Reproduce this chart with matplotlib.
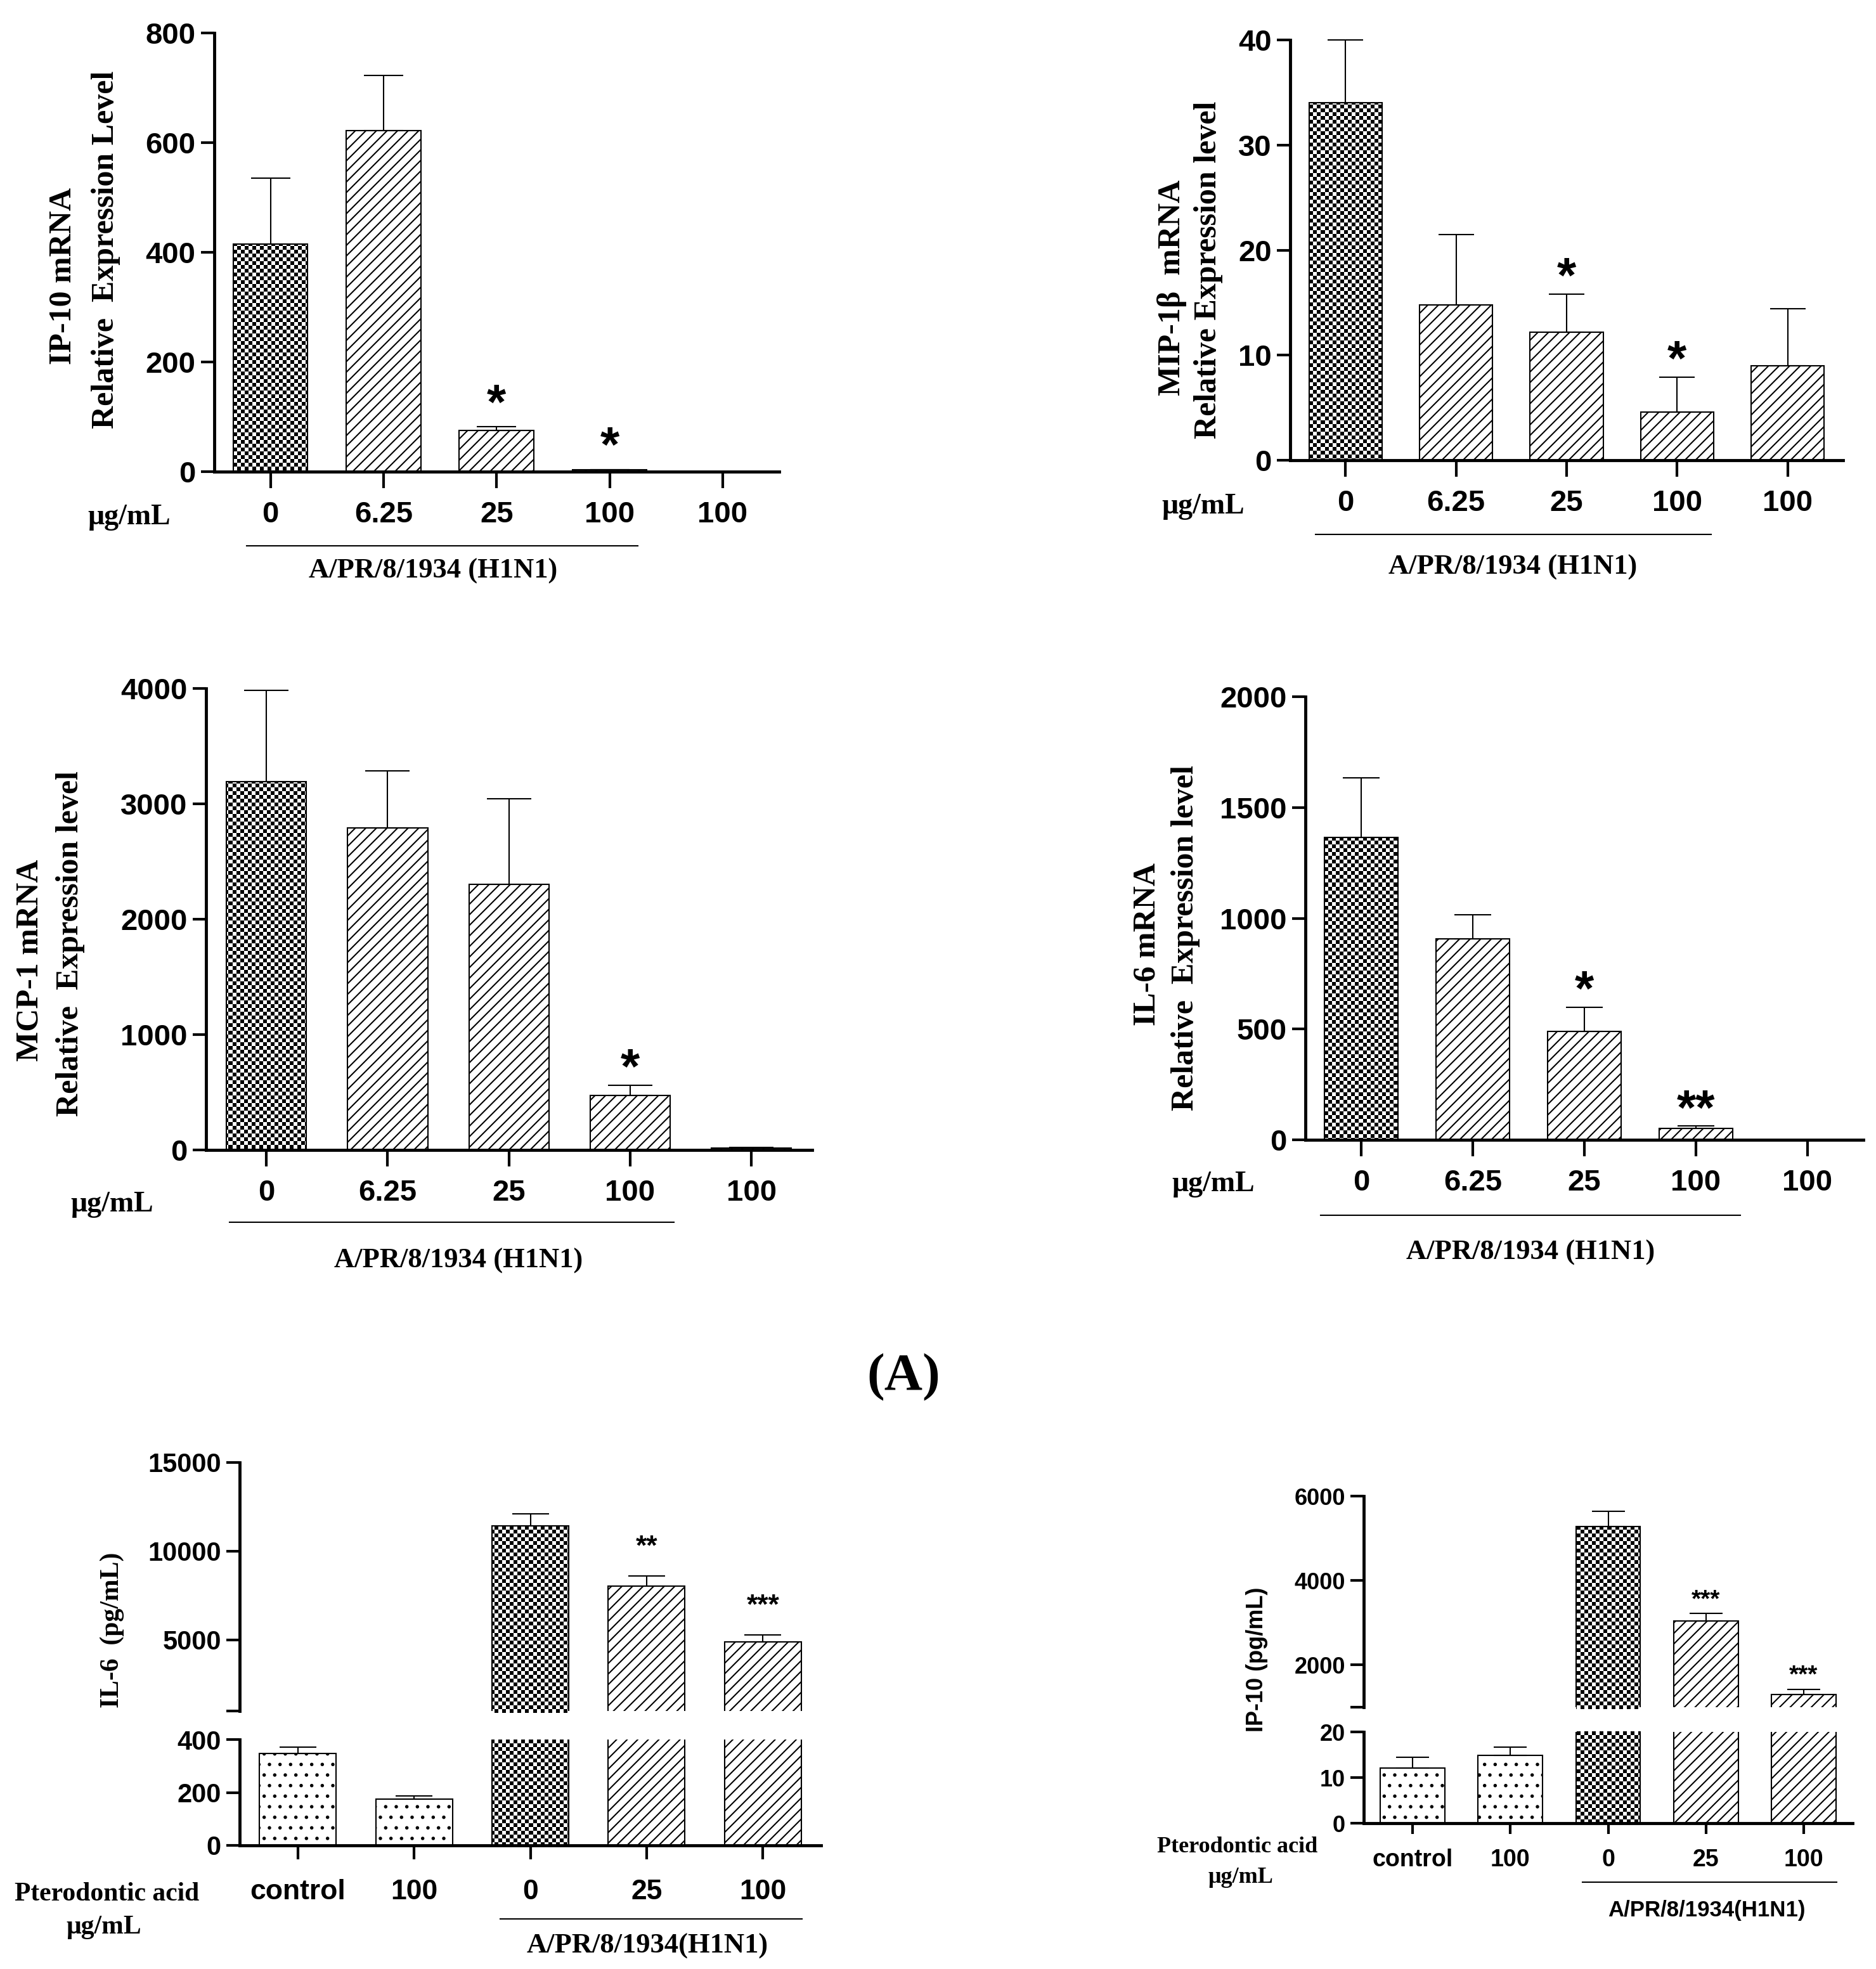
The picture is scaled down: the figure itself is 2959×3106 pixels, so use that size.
import matplotlib
matplotlib.use('Agg')
import matplotlib.pyplot as plt
import numpy as np
from matplotlib.lines import Line2D

W, H = 2959, 3106
DPI = 100
SANS = 'Liberation Sans'
SERIF = 'Liberation Serif'

# ---- data ----
dose_labels = ['0', '6.25', '25', '100', '100']
treat_labels = ['control', '100', '0', '25', '100']

ip10_mrna = [415, 622, 75, 3, 0]
ip10_mrna_err = [535, 723, 82, 4, 0]
ip10_mrna_stars = ['', '', '*', '*', '']

mip1b_mrna = [34.0, 14.8, 12.2, 4.6, 9.0]
mip1b_mrna_err = [40.0, 21.5, 15.8, 7.9, 14.4]
mip1b_mrna_stars = ['', '', '*', '*', '']

mcp1_mrna = [3190, 2790, 2300, 475, 15]
mcp1_mrna_err = [3985, 3285, 3045, 562, 22]
mcp1_mrna_stars = ['', '', '', '*', '']

il6_mrna = [1366, 907, 489, 52, 0]
il6_mrna_err = [1634, 1015, 599, 62, 0]
il6_mrna_stars = ['', '', '*', '**', '']

il6_prot = [348, 175, 11400, 8035, 4880]
il6_prot_err = [372, 188, 12080, 8600, 5275]
il6_prot_stars = ['', '', '', '**', '***']

ip10_prot = [12.1, 14.8, 5280, 3047, 1294]
ip10_prot_err = [14.5, 16.6, 5634, 3220, 1425]
ip10_prot_stars = ['', '', '', '***', '***']

mrna_fill = ['check', 'hatch', 'hatch', 'hatch', 'hatch']
prot_fill = ['dot', 'dot', 'check', 'hatch', 'hatch']

plt.rcParams['hatch.linewidth'] = 1.5

fig = plt.figure(figsize=(W / DPI, H / DPI), dpi=DPI)


def fx(x):
    return x / W


def fy(y):
    return 1 - y / H


def make_ax(left, right, top, bottom):
    return fig.add_axes([left / W, 1 - bottom / H, (right - left) / W, (bottom - top) / H])


def checker_fill(ax, bar, cell=6):
    # checkerboard fill: an image clipped to the bar outline
    pos = ax.get_position()
    wpx = pos.width * W
    hpx = pos.height * H
    nx = int(wpx / cell) + 1
    ny = int(hpx / cell) + 1
    arr = np.add.outer(np.arange(ny), np.arange(nx)) % 2
    x0, x1 = ax.get_xlim()
    y0, y1 = ax.get_ylim()
    ext = (x0, x0 + nx * cell / wpx * (x1 - x0), y1 - ny * cell / hpx * (y1 - y0), y1)
    im = ax.imshow(arr, cmap='gray', extent=ext, aspect='auto',
                   interpolation='nearest', zorder=1.5, origin='upper')
    im.set_clip_path(bar)
    ax.set_xlim(x0, x1)
    ax.set_ylim(y0, y1)


def style_ax(ax, ylim, yticks, ylabels=None, tick_size=34, xlen=19, ylen=15):
    ax.set_xlim(-0.5, 4.5)
    ax.set_ylim(*ylim)
    ax.set_yticks(yticks)
    if ylabels is not None:
        ax.set_yticklabels(ylabels)
    for s in ['top', 'right']:
        ax.spines[s].set_visible(False)
    for s in ['left', 'bottom']:
        ax.spines[s].set_linewidth(3.5)
    ax.tick_params(axis='y', width=3, length=ylen, pad=6, labelsize=tick_size)
    ax.tick_params(axis='x', width=3, length=xlen, labelsize=tick_size)
    for lab in ax.get_yticklabels():
        lab.set_fontfamily(SANS)
        lab.set_fontweight('bold')


def set_xlabels(ax, labels, size, pad):
    ax.set_xticks(range(len(labels)))
    ax.set_xticklabels(labels)
    ax.tick_params(axis='x', pad=pad, labelsize=size)
    for lab in ax.get_xticklabels():
        lab.set_fontfamily(SANS)
        lab.set_fontweight('bold')


def draw_bars(ax, vals, errs, fills, capsize, width=0.66):
    lo, hi = ax.get_ylim()
    for i, (v, e, f) in enumerate(zip(vals, errs, fills)):
        if v <= 0:
            continue
        hatch = {'hatch': '//', 'dot': '.', 'check': None}[f]
        b = ax.bar(i, v, width, facecolor='none' if f == 'check' else 'white',
                   edgecolor='black', linewidth=1.5, hatch=hatch, zorder=2)[0]
        if f == 'check':
            checker_fill(ax, b)
        # only draw the error bar in the axes segment where it is visible
        if e > v and v >= lo and e <= hi * 1.0001:
            ax.errorbar(i, v, yerr=[[0], [e - v]], fmt='none', ecolor='black',
                        elinewidth=1.5, capsize=capsize, capthick=1.5,
                        zorder=3, clip_on=False)


def draw_stars(ax, errs, stars, size, offset):
    for i, (e, s) in enumerate(zip(errs, stars)):
        if s:
            ax.annotate(s, xy=(i, e), xytext=(0, offset), textcoords='offset points',
                        ha='center', va='baseline', fontsize=size,
                        fontfamily=SANS, fontweight='bold', annotation_clip=False)


def ftext(x, y, s, size, family=SERIF, rot=0, weight='bold'):
    fig.text(fx(x), fy(y), s, ha='center', va='center', fontsize=size,
             fontfamily=family, fontweight=weight, rotation=rot)


def hline(x0, x1, y, lw=1.5):
    fig.add_artist(Line2D([fx(x0), fx(x1)], [fy(y), fy(y)], color='black', lw=lw))


def mrna_panel(box, vals, errs, stars, ymax, step, capsize, star_off, lab1, lab2, texts):
    left, right, top, bottom = box
    ax = make_ax(left, right, top, bottom)
    style_ax(ax, (0, ymax), np.arange(0, ymax + step / 2, step))
    set_xlabels(ax, dose_labels, 34, 14)
    draw_bars(ax, vals, errs, mrna_fill, capsize)
    draw_stars(ax, errs, stars, 56, star_off)
    (x1, y1), (x2, y2), (ux, uy), (lx0, lx1, ly), (ax_, ay_) = texts
    ftext(x1, y1, lab1, 36, rot=90)
    ftext(x2, y2, lab2, 36, rot=90)
    ftext(ux, uy, 'μg/mL', 33)
    hline(lx0, lx1, ly)
    ftext(ax_, ay_, 'A/PR/8/1934 (H1N1)', 32)
    return ax


# ---- panel A, mRNA ----
mrna_panel((337.5, 1229, 52, 744), ip10_mrna, ip10_mrna_err, ip10_mrna_stars, 800, 200, 22, 9,
           'IP-10 mRNA', 'Relative  Expression Level',
           [(100, 435), (167, 394), (204, 816), (389, 1006, 860.5), (683, 901)])

mrna_panel((2035, 2907, 63, 726), mip1b_mrna, mip1b_mrna_err, mip1b_mrna_stars, 40, 10, 20, 2,
           'MIP-1β  mRNA', 'Relative Expression level',
           [(1849, 454), (1906, 426), (1898, 799), (2075, 2699, 843), (2386, 895)])

mrna_panel((324.5, 1281, 1086, 1814), mcp1_mrna, mcp1_mrna_err, mcp1_mrna_stars, 4000, 1000, 25, 2,
           'MCP-1 mRNA', 'Relative  Expression level',
           [(48, 1515), (111, 1488), (177, 1900), (362, 1063, 1927.5), (723, 1989)])

mrna_panel((2059, 2939, 1099, 1798), il6_mrna, il6_mrna_err, il6_mrna_stars, 2000, 500, 21, 2,
           'IL-6 mRNA', 'Relative  Expression level',
           [(1809, 1489), (1870, 1479), (1914, 1868), (2083, 2745, 1917), (2414, 1976)])

ftext(1425, 2173, '(A)', 60)


# ---- protein panels with broken axes ----
def broken_panel(box, vals, errs, stars, up_lim, up_ticks, lo_lim, lo_ticks,
                 tick_size, xtick_size, xpad, capsize, star_size, star_off, xlen):
    left, right, up_top, up_bot, lo_top, lo_bot = box
    axu = make_ax(left, right, up_top, up_bot)
    axl = make_ax(left, right, lo_top, lo_bot)
    style_ax(axu, up_lim, up_ticks, [''] + [str(t) for t in up_ticks[1:]], tick_size)
    axu.spines['bottom'].set_visible(False)
    axu.tick_params(axis='x', bottom=False, labelbottom=False)
    style_ax(axl, lo_lim, lo_ticks, None, tick_size, xlen=xlen)
    set_xlabels(axl, treat_labels, xtick_size, xpad)
    draw_bars(axu, vals, errs, prot_fill, capsize)
    draw_bars(axl, vals, errs, prot_fill, capsize)
    draw_stars(axu, errs, stars, star_size, star_off)
    return axu, axl


broken_panel((378, 1295, 2306.5, 2699, 2744, 2911), il6_prot, il6_prot_err, il6_prot_stars,
             (1000, 15000), [1000, 5000, 10000, 15000], (0, 400), [0, 200, 400],
             30, 32, 22, 21, 32, 24, 16)
ftext(177, 2571, 'IL-6  (pg/mL)', 30, rot=90)
ftext(169, 2988, 'Pterodontic acid', 30)
ftext(164, 3040, 'μg/mL', 30)
hline(789, 1265, 3027)
ftext(1021, 3070, 'A/PR/8/1934(H1N1)', 32)

broken_panel((2151, 2922, 2360, 2693, 2732, 2876), ip10_prot, ip10_prot_err, ip10_prot_stars,
             (1000, 6000), [1000, 2000, 4000, 6000], (0, 20), [0, 10, 20],
             26, 27, 17, 19, 28, 8, 12)
ftext(1983, 2618, 'IP-10 (pg/mL)', 26, family=SANS, rot=90)
ftext(1952, 2914, 'Pterodontic acid', 26)
ftext(1957, 2962, 'μg/mL', 26)
hline(2496, 2897, 2969)
ftext(2692, 3013, 'A/PR/8/1934(H1N1)', 25, family=SANS)

fig.savefig('out.png', dpi=DPI, facecolor='white')
